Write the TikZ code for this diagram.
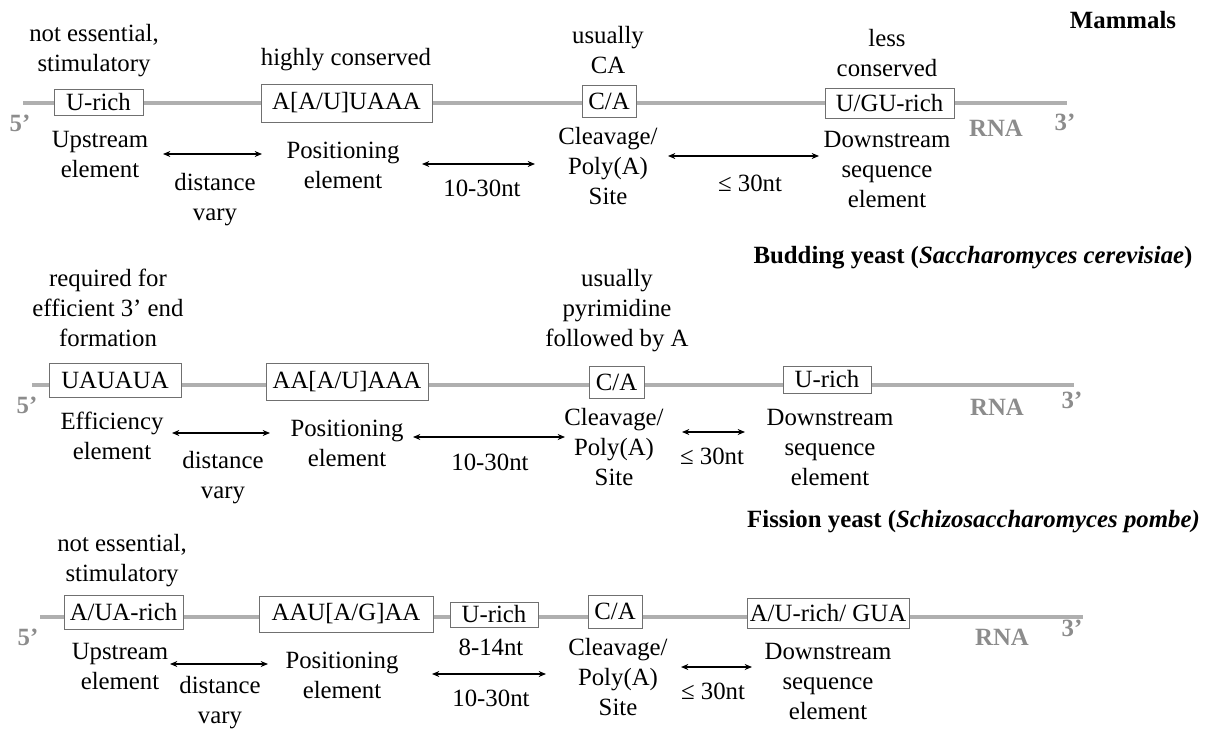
\documentclass[tikz,border=0pt]{standalone}
\usepackage{fontspec}
\setmainfont{Liberation Serif}
\usepackage{tikz}
\usetikzlibrary{arrows.meta}
\definecolor{rnaline}{HTML}{AFAFAF}
\definecolor{rnatext}{HTML}{8C8C8C}
\definecolor{boxline}{HTML}{707070}
\newcommand{\lblfont}{\fontsize{18.6}{22.5}\selectfont}
\tikzset{
  rna/.style={rnaline,line width=2.3pt},
  seqbox/.style 2 args={draw=boxline,fill=white,line width=0.6pt,inner sep=0pt,font=\lblfont,minimum width=#1*0.75pt,minimum height=#2*0.75pt},
  lbl/.style={align=center,inner sep=0pt,font=\lblfont},
  endlbl/.style={inner sep=0pt,text=rnatext,font=\lblfont\bfseries},
  ttl/.style={inner sep=0pt,font=\lblfont\bfseries},
  span/.style={{Stealth[length=5.5pt,width=4.5pt]}-{Stealth[length=5.5pt,width=4.5pt]},line width=0.8pt},
}

\begin{document}
\begin{tikzpicture}[x=0.75pt,y=-0.75pt]
\useasboundingbox (0,0) rectangle (1216,731);
% mammals
\node[ttl] (t1) at (1123,20) {Mammals};
\coordinate (s1) at (23,103); \coordinate (e1) at (1067,103);
\draw[rna] (s1) -- (e1);
\node[seqbox={89}{26}] (ua) at (98.5,102) {U-rich};
\node[seqbox={171}{38}] (pa) at (346.5,103) {A[A/U]UAAA};
\node[seqbox={54}{32}] (ca) at (609,101) {C/A};
\node[seqbox={129}{30}] (da) at (889.5,103) {U/GU-rich};
\node[lbl] (ua1) at (94,51) {not essential,\\stimulatory};
\node[lbl] (ua2) at (100,155) {Upstream\\element};
\node[lbl] (pa1) at (346,60) {highly conserved};
\node[lbl] (pa2) at (343,165) {Positioning\\element};
\node[lbl] (ca1) at (608,50) {usually\\CA};
\node[lbl] (ca2) at (608,166) {Cleavage/\\Poly(A)\\Site};
\node[lbl] (da1) at (887,53) {less\\conserved};
\node[lbl] (da2) at (887,170) {Downstream\\sequence\\element};
\node[lbl] (g1a) at (215,200) {distance\\vary};
\node[lbl] (g1b) at (482,188) {10-30nt};
\node[lbl] (g1c) at (750,183) {≤ 30nt};
\node[endlbl] (f1) at (20,123) {5’};
\node[endlbl] (r1) at (996,128) {RNA};
\node[endlbl] (h1) at (1065,122) {3’};
\coordinate (a1) at (163,154); \coordinate (b1) at (262,154);
\coordinate (c1) at (422,164); \coordinate (d1) at (535,164);
\coordinate (m1) at (668,156); \coordinate (n1) at (819,156);
\draw[span] (a1) -- (b1); \draw[span] (c1) -- (d1); \draw[span] (m1) -- (n1);
% budding yeast
\node[ttl] (t2) at (973,258) {Budding yeast (\textit{Saccharomyces cerevisiae})};
\coordinate (s2) at (32,385); \coordinate (e2) at (1074,385);
\draw[rna] (s2) -- (e2);
\node[seqbox={132}{34}] (eb) at (115,380) {UAUAUA};
\node[seqbox={162}{37}] (pb) at (347,381.5) {AA[A/U]AAA};
\node[seqbox={55}{32}] (cb) at (616.5,382) {C/A};
\node[seqbox={88}{27}] (db) at (827,379.5) {U-rich};
\node[lbl] (eb1) at (108,308) {required for\\efficient 3’ end\\formation};
\node[lbl] (eb2) at (112,436) {Efficiency\\element};
\node[lbl] (pb2) at (347,443) {Positioning\\element};
\node[lbl] (cb1) at (617,311) {usually\\pyrimidine\\followed by A};
\node[lbl] (cb2) at (614,447) {Cleavage/\\Poly(A)\\Site};
\node[lbl] (db2) at (830,447) {Downstream\\sequence\\element};
\node[lbl] (g2a) at (223,478) {distance\\vary};
\node[lbl] (g2b) at (490,462) {10-30nt};
\node[lbl] (g2c) at (712,456) {≤ 30nt};
\node[endlbl] (f2) at (27,405) {5’};
\node[endlbl] (r2) at (997,407) {RNA};
\node[endlbl] (h2) at (1072,400) {3’};
\coordinate (a2) at (172,433); \coordinate (b2) at (270,433);
\coordinate (c2) at (413,437); \coordinate (d2) at (565,437);
\coordinate (m2) at (682,432); \coordinate (n2) at (745,432);
\draw[span] (a2) -- (b2); \draw[span] (c2) -- (d2); \draw[span] (m2) -- (n2);
% fission yeast
\node[ttl] (t3) at (973.5,522) {Fission yeast (\textit{Schizosaccharomyces pombe)}};
\coordinate (s3) at (40,617); \coordinate (e3) at (1083,617);
\draw[rna] (s3) -- (e3);
\node[seqbox={119}{34}] (ec) at (123.5,612) {A/UA-rich};
\node[seqbox={174}{36}] (pc) at (346,614) {AAU[A/G]AA};
\node[seqbox={88}{25}] (uc) at (494,614.5) {U-rich};
\node[seqbox={54}{33}] (cc) at (615,611.5) {C/A};
\node[seqbox={162}{30}] (dc) at (828,613) {A/U-rich/ GUA};
\node[lbl] (ec1) at (122,561) {not essential,\\stimulatory};
\node[lbl] (ec2) at (120,666) {Upstream\\element};
\node[lbl] (pc2) at (342,675) {Positioning\\element};
\node[lbl] (uc2) at (491,647) {8-14nt};
\node[lbl] (cc2) at (618,677) {Cleavage/\\Poly(A)\\Site};
\node[lbl] (dc2) at (828,681) {Downstream\\sequence\\element};
\node[lbl] (g3a) at (220,703) {distance\\vary};
\node[lbl] (g3b) at (491,698) {10-30nt};
\node[lbl] (g3c) at (713,691) {≤ 30nt};
\node[endlbl] (f3) at (28,637) {5’};
\node[endlbl] (r3) at (1002,637) {RNA};
\node[endlbl] (h3) at (1072,628) {3’};
\coordinate (a3) at (170,664); \coordinate (b3) at (268,664);
\coordinate (c3) at (432,674); \coordinate (d3) at (546,674);
\coordinate (m3) at (681,667); \coordinate (n3) at (752,667);
\draw[span] (a3) -- (b3); \draw[span] (c3) -- (d3); \draw[span] (m3) -- (n3);
\end{tikzpicture}
\end{document}
